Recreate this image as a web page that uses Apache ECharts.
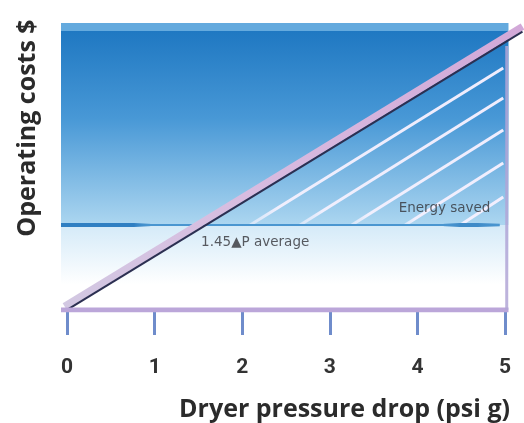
<!DOCTYPE html>
<html>
<head>
<meta charset="utf-8">
<script src="https://cdn.jsdelivr.net/npm/echarts@6/dist/echarts.min.js"></script>
<style>
html,body{margin:0;padding:0;background:#fff;}
#chart{width:524px;height:423px;}
</style>
</head>
<body>
<div id="chart"></div>
<script>
// ---- data ----
const xTicks = [0, 1, 2, 3, 4, 5];
const xRange = [-0.07, 5.2];
const costLine = [[-0.03, -0.5], [5.2, 97]];          // dryer operating cost line
const averageLevel = 29.6;                          // 1.45 dP average level
const averageSpan = [-0.07, 4.94];
const hatchStartX = [2.09, 2.66, 3.25, 3.86, 4.49];  // hatch lines start on average level
const hatchEndY = [84.3, 73.9, 62.7, 51.2, 39.4];    // hatch lines end at x = 5
const hatchEndX = 4.98;
const panelRight = 5.04;
const annotations = [
  { name: 'Energy saved', value: [4.31, 35.3] },
  { name: '1.45\u25B2P average', value: [1.53, 23.6] }
];

const chart = echarts.init(document.getElementById('chart'));

const hatchSeries = hatchStartX.map((x0, i) => ({
  type: 'line', silent: true, symbol: 'none', z: 3,
  lineStyle: {
    width: 3,
    color: { type: 'linear', x: 0, y: 0, x2: 1, y2: 0,
      colorStops: [{ offset: 0, color: 'rgba(250,245,255,0.5)' }, { offset: 0.12, color: 'rgba(248,242,255,0.92)' }, { offset: 1, color: 'rgba(246,240,255,0.97)' }] }
  },
  data: [[x0, averageLevel], [hatchEndX, hatchEndY[i]]]
}));

const option = {
  animation: false,
  grid: { left: 61, right: 1.5, top: 23, bottom: 113 },
  title: {
    text: 'Dryer pressure drop (psi g)',
    right: 9, top: 392,
    textStyle: { fontFamily: 'Open Sans', fontWeight: 'bold', fontSize: 25, color: '#2b2b2b' }
  },
  graphic: [{
    type: 'text', x: 28, y: 128, rotation: Math.PI / 2,
    style: {
      text: 'Operating costs $', fontFamily: 'Open Sans', fontWeight: 'bold', fontSize: 25,
      fill: '#2b2b2b', align: 'center', verticalAlign: 'middle'
    }
  }],
  xAxis: {
    type: 'value', min: xRange[0], max: xRange[1],
    splitLine: { show: false },
    axisLine: { show: false },
    axisTick: { show: true, customValues: xTicks, length: 25, lineStyle: { width: 3, color: '#6f8ccb' } },
    axisLabel: {
      customValues: xTicks, margin: 47,
      fontFamily: 'Roboto', fontWeight: 'bold', fontSize: 21, color: '#333333'
    }
  },
  yAxis: {
    type: 'value', min: 0, max: 100, show: false, splitLine: { show: false }
  },
  series: [
    {
      type: 'line', silent: true, symbol: 'none', z: 1, data: [],
      markArea: {
        silent: true,
        data: [
          [{ xAxis: xRange[0], yAxis: 100, itemStyle: { color: '#64aade' } }, { xAxis: panelRight, yAxis: 97.2 }],
          [{ xAxis: xRange[0], yAxis: 97.2, itemStyle: { color: { type: 'linear', x: 0, y: 0, x2: 0, y2: 1,
            colorStops: [{ offset: 0, color: '#1f78c2' }, { offset: 0.45, color: '#4898d6' }, { offset: 1, color: '#acd6f0' }] } } },
           { xAxis: panelRight, yAxis: averageLevel }],
          [{ xAxis: xRange[0], yAxis: averageLevel, itemStyle: { color: { type: 'linear', x: 0, y: 0, x2: 0, y2: 1,
            colorStops: [{ offset: 0, color: '#d4eaf8' }, { offset: 0.7, color: '#ffffff' }, { offset: 1, color: '#ffffff' }] } } },
           { xAxis: panelRight, yAxis: 0 }]
        ]
      }
    },
    ...hatchSeries,
    { // average line
      type: 'line', silent: true, symbol: 'none', z: 4,
      lineStyle: { width: 2, color: '#4a96d0' },
      data: [[averageSpan[0], averageLevel], [averageSpan[1], averageLevel]]
    },
    { // thick left end of average line
      type: 'line', silent: true, symbol: 'none', z: 4,
      lineStyle: { width: 4, color: { type: 'linear', x: 0, y: 0, x2: 1, y2: 0,
        colorStops: [{ offset: 0, color: '#2f7fc2' }, { offset: 0.8, color: '#2f7fc2' }, { offset: 1, color: 'rgba(74,150,208,0)' }] } },
      data: [[averageSpan[0], averageLevel], [0.95, averageLevel]]
    },
    { // thick right end of average line
      type: 'line', silent: true, symbol: 'none', z: 4,
      lineStyle: { width: 4, color: { type: 'linear', x: 0, y: 0, x2: 1, y2: 0,
        colorStops: [{ offset: 0, color: 'rgba(74,150,208,0)' }, { offset: 0.3, color: '#3f8bc8' }, { offset: 0.6, color: '#3f8bc8' }, { offset: 1, color: 'rgba(74,150,208,0.2)' }] } },
      data: [[4.3, averageLevel], [averageSpan[1], averageLevel]]
    },
    { // lavender band above the cost line
      type: 'line', silent: true, symbol: 'none', z: 5,
      lineStyle: { width: 7, color: { type: 'linear', x: 0, y: 0, x2: 1, y2: 0,
        colorStops: [{ offset: 0, color: '#d2c8e2' }, { offset: 0.4, color: '#d8bce0' }, { offset: 1, color: '#d2a8d8' }] } },
      data: costLine.map(p => [p[0], p[1] + 1.8])
    },
    { // cost line
      type: 'line', silent: true, symbol: 'none', z: 6,
      lineStyle: { width: 2, color: '#2c2f52' },
      data: costLine
    },
    { // bottom axis bar
      type: 'line', silent: true, symbol: 'none', z: 7,
      lineStyle: { width: 5, color: '#bba6d9' },
      data: [[xRange[0], 0], [panelRight, 0]]
    },
    { // right border
      type: 'line', silent: true, symbol: 'none', z: 7,
      lineStyle: { width: 3, color: 'rgba(178,166,214,0.85)' },
      data: [[panelRight - 0.02, 0], [panelRight - 0.02, 92]]
    },
    { // annotations
      type: 'scatter', silent: true, symbolSize: 0, z: 8,
      data: annotations.map((a, i) => ({
        name: a.name, value: a.value,
        label: i === 1 ? { position: 'right', distance: 0 } : { position: 'inside' }
      })),
      label: {
        show: true, formatter: p => p.name,
        fontFamily: 'DejaVu Sans', fontSize: 13.5, color: '#333338'
      }
    }
  ]
};
chart.setOption(option);
</script>
</body>
</html>
